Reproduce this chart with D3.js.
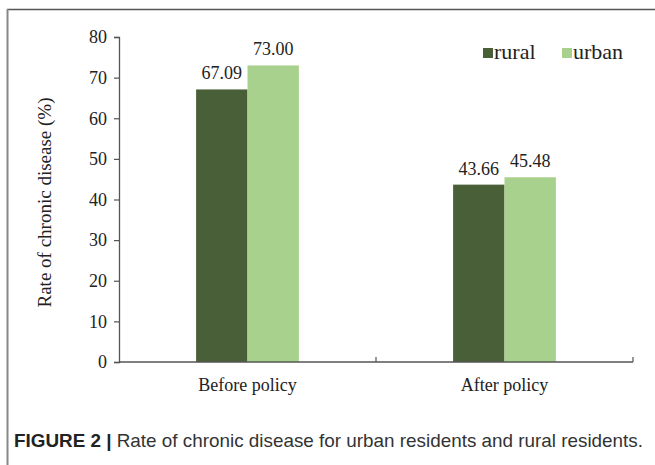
<!DOCTYPE html>
<html>
<head>
<meta charset="utf-8">
<script src="https://cdn.jsdelivr.net/npm/d3@7"></script>
<style>
  html, body { margin: 0; padding: 0; background: #fff; }
  svg { display: block; }
</style>
</head>
<body>
<script>
// Chronic disease rate before/after policy, by residence type
const categories = ["Before policy", "After policy"];
const seriesNames = ["rural", "urban"];
const ruralValues = [67.09, 43.66];
const urbanValues = [73.00, 45.48];
const yTicks = [0, 10, 20, 30, 40, 50, 60, 70, 80];
const colors = { rural: "#485f37", urban: "#a9d18e" };

const W = 655, H = 465;
const plot = { left: 119, right: 633, top: 37, bottom: 362 };
const serif = "'Liberation Serif', 'Times New Roman', serif";
const fs = 18;

const svg = d3.select("body").append("svg")
  .attr("width", W).attr("height", H);

// figure frame (top and left rule)
svg.append("line").attr("x1", 7).attr("x2", W).attr("y1", 9.5).attr("y2", 9.5)
  .attr("stroke", "#555").attr("stroke-width", 1.5);
svg.append("line").attr("x1", 7.5).attr("x2", 7.5).attr("y1", 9).attr("y2", H)
  .attr("stroke", "#888").attr("stroke-width", 2);

const x = d3.scaleBand().domain(categories).range([plot.left, plot.right]);
const inner = d3.scaleBand().domain(seriesNames)
  .range([x.bandwidth() * 0.3, x.bandwidth() * 0.7]);
const y = d3.scaleLinear().domain([0, 80]).range([plot.bottom, plot.top]);

const rows = categories.map((c, i) => ({
  category: c,
  values: [
    { key: "rural", value: ruralValues[i] },
    { key: "urban", value: urbanValues[i] }
  ]
}));

// bars
const groups = svg.append("g").selectAll("g").data(rows).join("g")
  .attr("transform", d => `translate(${x(d.category)},0)`);
groups.selectAll("rect").data(d => d.values).join("rect")
  .attr("x", d => inner(d.key))
  .attr("width", inner.bandwidth())
  .attr("y", d => y(d.value))
  .attr("height", d => y(0) - y(d.value))
  .attr("fill", d => colors[d.key]);

// value labels
groups.selectAll("text").data(d => d.values).join("text")
  .attr("x", d => inner(d.key) + inner.bandwidth() / 2)
  .attr("y", d => y(d.value) - 10)
  .attr("text-anchor", "middle")
  .attr("font-family", serif).attr("font-size", fs)
  .attr("fill", "#222")
  .text(d => d.value.toFixed(2));

// y axis
const yAxis = svg.append("g").attr("transform", `translate(${plot.left},0)`)
  .call(d3.axisLeft(y).tickValues(yTicks).tickSize(5).tickPadding(7));
yAxis.select(".domain").attr("stroke", "#555").attr("stroke-width", 1.3);
yAxis.selectAll(".tick line").attr("stroke", "#555").attr("stroke-width", 1.2);
yAxis.selectAll(".tick text").attr("font-family", serif).attr("font-size", fs)
  .attr("fill", "#222");

// x axis with inward ticks at category boundaries
const xAxisG = svg.append("g").attr("transform", `translate(0,${plot.bottom})`);
xAxisG.append("line").attr("x1", plot.left).attr("x2", plot.right)
  .attr("stroke", "#555").attr("stroke-width", 1.3);
const boundaries = categories.map(c => x(c) + x.bandwidth());
xAxisG.selectAll("line.bt").data(boundaries).join("line").attr("class", "bt")
  .attr("x1", d => d).attr("x2", d => d).attr("y1", 0).attr("y2", -5)
  .attr("stroke", "#555").attr("stroke-width", 1.2);
xAxisG.selectAll("text").data(categories).join("text")
  .attr("x", d => x(d) + x.bandwidth() / 2)
  .attr("y", 29)
  .attr("text-anchor", "middle")
  .attr("font-family", serif).attr("font-size", fs)
  .attr("fill", "#222")
  .text(d => d);

// y axis title
svg.append("text")
  .attr("transform", `translate(51,${(plot.top + plot.bottom) / 2 + 3}) rotate(-90)`)
  .attr("text-anchor", "middle")
  .attr("font-family", serif).attr("font-size", 19)
  .attr("fill", "#222")
  .text("Rate of chronic disease (%)");

// legend
const legendPos = [483, 562];
const legend = svg.append("g").selectAll("g").data(seriesNames).join("g")
  .attr("transform", (d, i) => `translate(${legendPos[i]},48)`);
legend.append("rect").attr("width", 10).attr("height", 10)
  .attr("fill", d => colors[d]);
legend.append("text").attr("x", 11).attr("y", 11)
  .attr("font-family", serif).attr("font-size", 22)
  .attr("fill", "#222")
  .text(d => d);

// caption
const caption = svg.append("text").attr("x", 14).attr("y", 447)
  .attr("font-family", "'Liberation Sans', Arial, sans-serif").attr("font-size", 18.5)
  .attr("fill", "#333")
  .attr("textLength", 629).attr("lengthAdjust", "spacingAndGlyphs");
caption.append("tspan").attr("font-weight", "bold").attr("fill", "#222").text("FIGURE 2 | ");
caption.append("tspan").text("Rate of chronic disease for urban residents and rural residents.");
</script>
</body>
</html>
